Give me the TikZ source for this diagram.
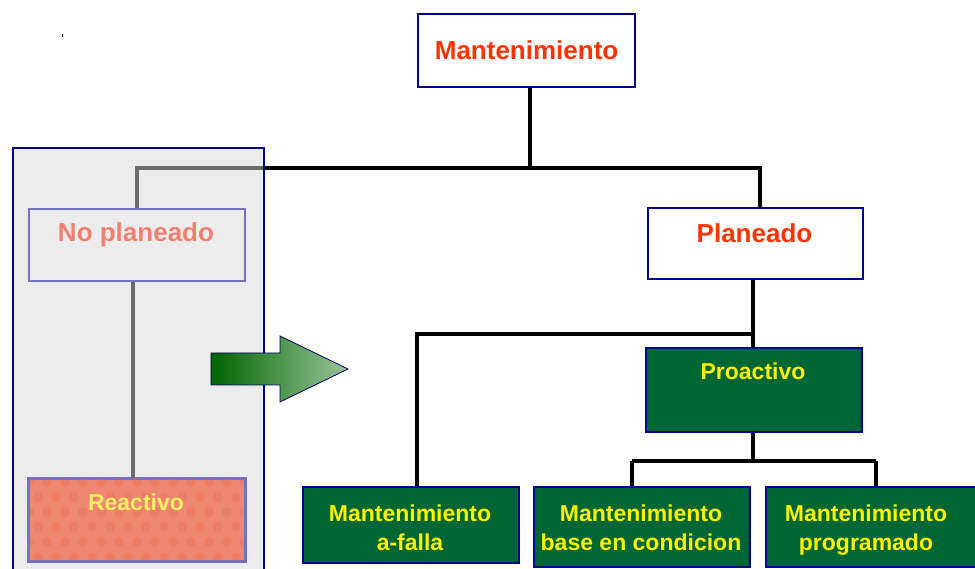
\documentclass[tikz,border=0pt]{standalone}
\usepackage{fontspec}
\setmainfont{Liberation Sans}
\definecolor{navy}{HTML}{00008C}
\definecolor{lilac}{HTML}{7272C0}
\definecolor{titlered}{HTML}{FF3300}
\definecolor{salmon}{HTML}{EE8872}
\definecolor{salmondot}{HTML}{F06A50}
\definecolor{salmontext}{HTML}{EE8070}
\definecolor{paleyellow}{HTML}{F0F060}
\definecolor{dkgreen}{HTML}{006633}
\definecolor{panelgray}{HTML}{ECECEC}
\definecolor{linegray}{HTML}{6A6A6A}
\begin{document}
\begin{tikzpicture}[x=1pt,y=-1pt,
  whitebox/.style={draw=navy,line width=2.2pt,fill=white,anchor=north west,inner sep=0pt},
  fadedbox/.style={draw=lilac,line width=2.2pt,anchor=north west,inner sep=0pt},
  greenbox/.style={draw=navy,line width=2.2pt,fill=dkgreen,anchor=north west,inner sep=0pt},
  redtext/.style={text=titlered,font=\bfseries\fontsize{26}{28}\selectfont},
  yelltext/.style={text=yellow,font=\bfseries\fontsize{23}{29}\selectfont,align=center},
  conn/.style={line width=3.6pt,black},
  grayconn/.style={line width=3.6pt,linegray}
]
\useasboundingbox (0,0) rectangle (975,569);

% left panel
\node[draw=navy,line width=2.4pt,fill=panelgray,anchor=north west,inner sep=0pt,
      minimum width=251pt,minimum height=440pt] (panel) at (12,147) {};

% top box
\node[whitebox,minimum width=217pt,minimum height=73pt] (mant) at (417,13) {};
\node[redtext] (mantt) at (mant.center) {Mantenimiento};

% no planeado
\node[fadedbox,minimum width=216pt,minimum height=72pt] (nop) at (28,208) {};
\node[text=salmontext,font=\bfseries\fontsize{26}{28}\selectfont] (nopt) at (136,235) {No planeado};

% reactivo
\node[fadedbox,fill=salmon,minimum width=216pt,minimum height=82pt] (reac) at (28,478) {};
\begin{scope}
  \clip (29,479) rectangle (243,559);
  \foreach \i in {0,...,12} {
    \foreach \j in {0,...,5} {
      \fill[salmondot,opacity=0.35] ({29+\i*18+mod(\j,2)*9},{482+\j*15}) circle (5pt);
    }
  }
\end{scope}
\draw[lilac,line width=2.2pt] (reac.north west) rectangle (reac.south east);
\node[text=paleyellow,font=\bfseries\fontsize{23}{28}\selectfont] (react) at (136,502) {Reactivo};

% planeado
\node[whitebox,minimum width=215pt,minimum height=71pt] (plan) at (647,207) {};
\node[redtext] (plant) at (754.5,233) {Planeado};

% proactivo
\node[greenbox,minimum width=216pt,minimum height=84pt] (proa) at (645,347) {};
\node[yelltext] (proat) at (753,371) {Proactivo};

% bottom boxes
\node[greenbox,minimum width=216pt,minimum height=76pt] (falla) at (302,486) {};
\node[yelltext] (fallat) at (410,530) {Mantenimiento\\a-falla\vphantom{pg}};
\node[greenbox,minimum width=216pt,minimum height=80pt] (cond) at (533,486) {};
\node[yelltext] (condt) at (641,530) {Mantenimiento\\base en condicion\vphantom{pg}};
\node[greenbox,minimum width=215pt,minimum height=80pt] (prog) at (765,486) {};
\node[yelltext] (progt) at (866,530) {Mantenimiento\\programado\vphantom{pg}};

% junction coordinates
\coordinate (jtop) at (530,168);
\coordinate (jleft) at (137,168);
\coordinate (jpanel) at (263,168);
\coordinate (jright) at (760,168);
\coordinate (jmid) at (753,334);
\coordinate (jfalla) at (417,334);
\coordinate (jlow) at (753,461);
\coordinate (jl2) at (632,461);
\coordinate (jr2) at (876,461);

% connectors
\draw[conn] (mant.south -| jtop) -- (jtop);
\draw[conn] (jpanel) -- (jright) -- (plan.north -| jright);
\draw[grayconn] (jpanel) -- (jleft) -- (nop.north -| jleft);
\draw[grayconn] (nop.south -| 133,0) -- (reac.north -| 133,0);
\draw[conn] (plan.south -| jmid) -- (proa.north -| jmid);
\draw[conn] (jmid) -- (jfalla) -- (falla.north -| jfalla);
\draw[conn] (proa.south -| jlow) -- (jlow);
\draw[conn] (jl2) -- (jr2);
\draw[conn] (jl2) -- (cond.north -| jl2);
\draw[conn] (jr2) -- (prog.north -| jr2);

% arrow
\shade[left color={rgb,255:red,0;green,100;blue,0}, right color={rgb,255:red,155;green,196;blue,155}]
  (211,353) -- (280,353) -- (280,336) -- (348,369) -- (280,402) -- (280,385) -- (211,385) -- cycle;
\draw[navy!70!black,line width=0.8pt]
  (211,353) -- (280,353) -- (280,336) -- (348,369) -- (280,402) -- (280,385) -- (211,385) -- cycle;

% small mark
\draw[black,line width=0.8pt] (62,34) -- (62,37);
\end{tikzpicture}
\end{document}
